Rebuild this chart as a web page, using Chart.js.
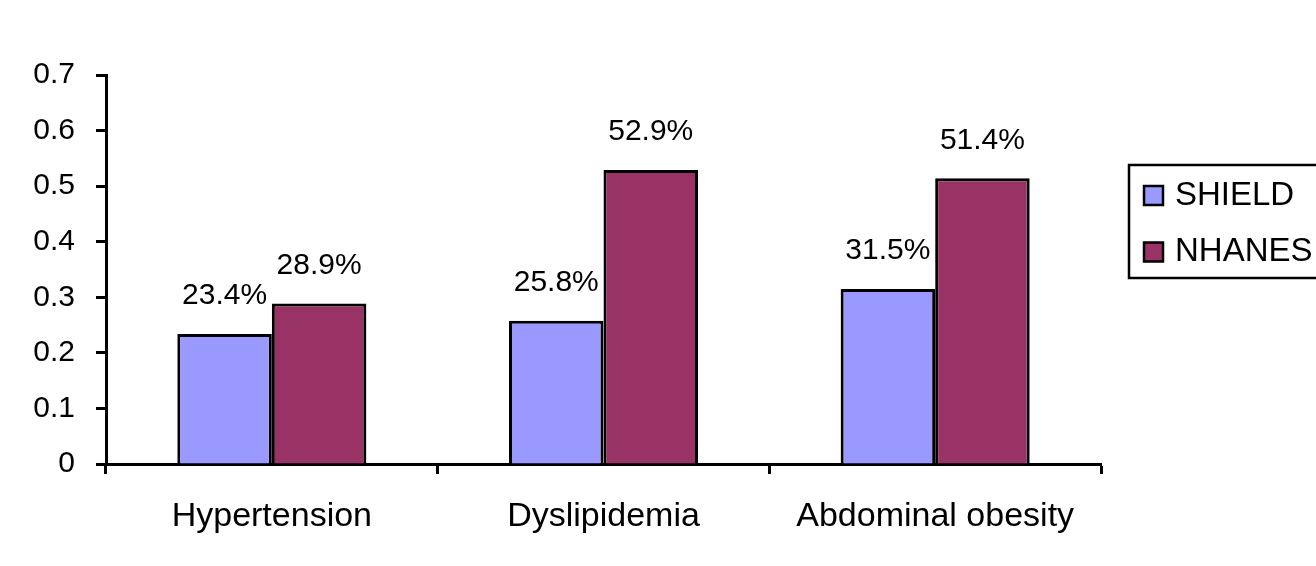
<!DOCTYPE html>
<html>
<head>
<meta charset="utf-8">
<script src="https://cdn.jsdelivr.net/npm/chart.js@4.4.1/dist/chart.umd.min.js"></script>
<style>
  html, body { margin: 0; padding: 0; background: #ffffff; overflow: hidden; }
  #wrap { width: 1316px; height: 566px; }
</style>
</head>
<body>
<div id="wrap"><canvas id="chart" width="1316" height="566"></canvas></div>
<script>
// Prevalence of cardiometabolic conditions by survey
const categories = ['Hypertension', 'Dyslipidemia', 'Abdominal obesity'];
const shieldValues = [0.234, 0.258, 0.315];
const nhanesValues = [0.289, 0.529, 0.514];
const seriesNames = ['SHIELD', 'NHANES'];
const yTicks = [0, 0.1, 0.2, 0.3, 0.4, 0.5, 0.6, 0.7];

const FONT = '"Liberation Sans", Arial, sans-serif';

// Percentage labels above each bar
const valueLabels = {
  id: 'valueLabels',
  afterDatasetsDraw(chart) {
    const ctx = chart.ctx;
    ctx.save();
    ctx.font = '30px ' + FONT;
    ctx.fillStyle = '#000000';
    ctx.textAlign = 'center';
    ctx.textBaseline = 'middle';
    chart.data.datasets.forEach((ds, di) => {
      const meta = chart.getDatasetMeta(di);
      meta.data.forEach((bar, i) => {
        const text = (ds.data[i] * 100).toFixed(1) + '%';
        ctx.fillText(text, bar.x, bar.y - 38);
      });
    });
    ctx.restore();
  }
};

// Boxed legend at the right side
const boxLegend = {
  id: 'boxLegend',
  afterDraw(chart) {
    const ctx = chart.ctx;
    const left = 1129, top = 165, bottom = 278, right = 1340;
    ctx.save();
    ctx.strokeStyle = '#000000';
    ctx.lineWidth = 2.5;
    ctx.strokeRect(left, top, right - left, bottom - top);
    ctx.font = '33px ' + FONT;
    ctx.textAlign = 'left';
    ctx.textBaseline = 'middle';
    const rows = [195.5, 252];
    chart.data.datasets.forEach((ds, di) => {
      const cy = rows[di];
      ctx.fillStyle = ds.backgroundColor;
      ctx.fillRect(1144, cy - 9.5, 19, 19);
      ctx.lineWidth = 2.5;
      ctx.strokeRect(1144, cy - 9.5, 19, 19);
      ctx.fillStyle = '#000000';
      ctx.fillText(ds.label, 1175, cy);
    });
    ctx.restore();
  }
};

new Chart(document.getElementById('chart'), {
  type: 'bar',
  data: {
    labels: categories,
    datasets: [
      {
        label: seriesNames[0],
        data: shieldValues,
        backgroundColor: '#9999FF',
        borderColor: '#000000',
        borderWidth: 3,
        categoryPercentage: 0.57,
        barPercentage: 1.0
      },
      {
        label: seriesNames[1],
        data: nhanesValues,
        backgroundColor: '#993366',
        borderColor: '#000000',
        borderWidth: 3,
        categoryPercentage: 0.57,
        barPercentage: 1.0
      }
    ]
  },
  options: {
    responsive: false,
    animation: false,
    devicePixelRatio: 1,
    layout: { padding: { top: 75, right: 215, left: 0, bottom: 0 } },
    plugins: {
      legend: { display: false },
      tooltip: { enabled: false }
    },
    scales: {
      x: {
        offset: true,
        grid: {
          display: true,
          offset: true,
          drawOnChartArea: false,
          drawTicks: true,
          tickLength: 10,
          tickWidth: 3,
          color: '#000000'
        },
        border: { display: true, color: '#000000', width: 3 },
        ticks: {
          color: '#000000',
          font: { family: FONT, size: 34 },
          padding: 22,
          maxRotation: 0
        },
        afterFit(scale) { scale.height = 102; }
      },
      y: {
        min: 0,
        max: 0.7,
        afterBuildTicks(scale) {
          scale.ticks = yTicks.map(v => ({ value: v }));
        },
        grid: {
          display: true,
          drawOnChartArea: false,
          drawTicks: true,
          tickLength: 10,
          tickWidth: 3,
          color: '#000000'
        },
        border: { display: true, color: '#000000', width: 3 },
        ticks: {
          color: '#000000',
          font: { family: FONT, size: 30 },
          padding: 21,
          callback(value) { return String(value); }
        },
        afterFit(scale) { scale.width = 106; }
      }
    }
  },
  plugins: [valueLabels, boxLegend]
});
</script>
</body>
</html>
